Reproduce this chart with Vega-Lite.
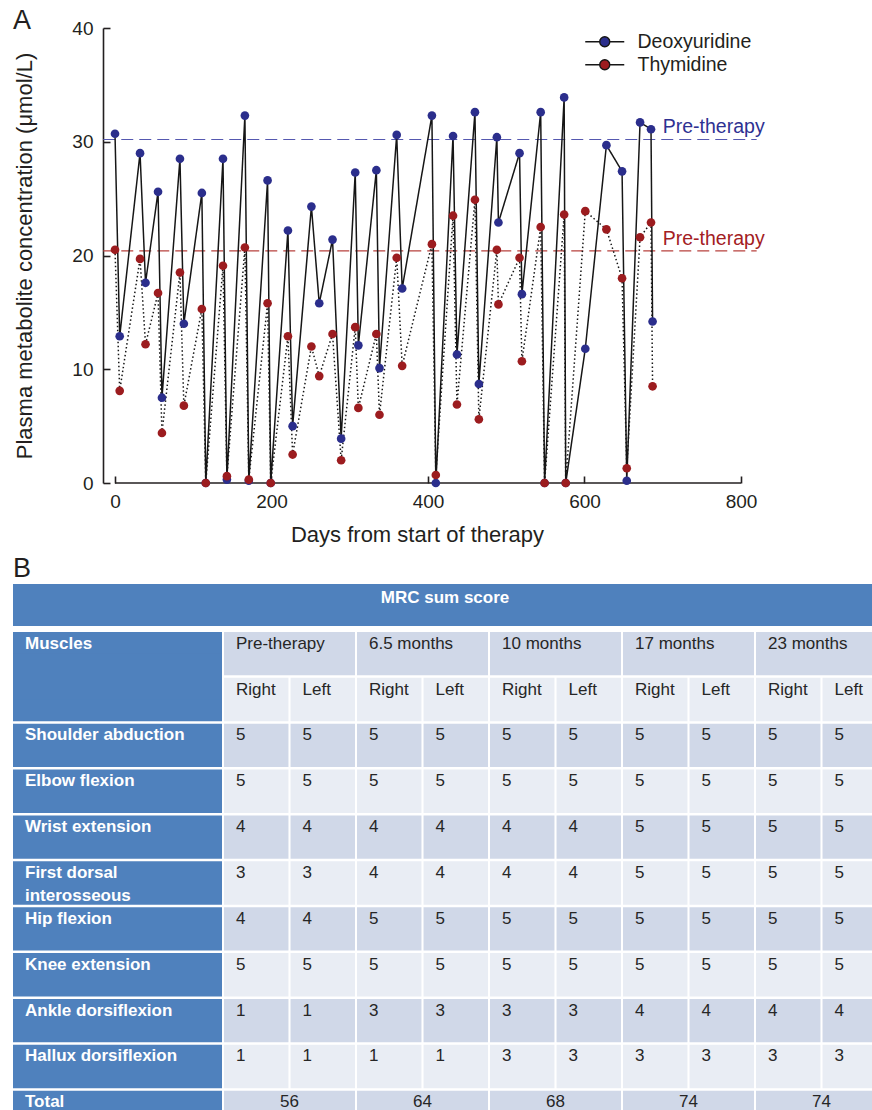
{
  "$schema": "https://vega.github.io/schema/vega-lite/v6.json",
  "padding": {"left": 13, "top": 7, "right": 0, "bottom": 0},
  "config": {
    "font": "Liberation Sans",
    "view": {"stroke": null},
    "title": {"font": "Liberation Sans"}
  },
  "resolve": {
    "scale": {"x": "independent", "y": "independent", "color": "independent", "fill": "independent", "stroke": "independent", "strokeDash": "independent"},
    "legend": {"color": "independent"}
  },
  "datasets": {
    "pts": [
      {"series":"Deoxyuridine","day":0,"value":30.7},{"series":"Deoxyuridine","day":6,"value":12.9},{"series":"Deoxyuridine","day":32,"value":29.0},{"series":"Deoxyuridine","day":39,"value":17.6},{"series":"Deoxyuridine","day":55,"value":25.6},{"series":"Deoxyuridine","day":60,"value":7.5},{"series":"Deoxyuridine","day":83,"value":28.5},{"series":"Deoxyuridine","day":88,"value":14.0},{"series":"Deoxyuridine","day":111,"value":25.5},{"series":"Deoxyuridine","day":116,"value":0},{"series":"Deoxyuridine","day":138,"value":28.5},{"series":"Deoxyuridine","day":143,"value":0.3},{"series":"Deoxyuridine","day":166,"value":32.3},{"series":"Deoxyuridine","day":171,"value":0.2},{"series":"Deoxyuridine","day":195,"value":26.6},{"series":"Deoxyuridine","day":199,"value":0},{"series":"Deoxyuridine","day":221,"value":22.2},{"series":"Deoxyuridine","day":227,"value":5.0},{"series":"Deoxyuridine","day":251,"value":24.3},{"series":"Deoxyuridine","day":261,"value":15.8},{"series":"Deoxyuridine","day":278,"value":21.4},{"series":"Deoxyuridine","day":289,"value":3.9},{"series":"Deoxyuridine","day":307,"value":27.3},{"series":"Deoxyuridine","day":311,"value":12.1},{"series":"Deoxyuridine","day":334,"value":27.5},{"series":"Deoxyuridine","day":338,"value":10.1},{"series":"Deoxyuridine","day":360,"value":30.6},{"series":"Deoxyuridine","day":367,"value":17.1},{"series":"Deoxyuridine","day":405,"value":32.3},{"series":"Deoxyuridine","day":410,"value":0},{"series":"Deoxyuridine","day":432,"value":30.5},{"series":"Deoxyuridine","day":437,"value":11.3},{"series":"Deoxyuridine","day":460,"value":32.6},{"series":"Deoxyuridine","day":465,"value":8.7},{"series":"Deoxyuridine","day":488,"value":30.4},{"series":"Deoxyuridine","day":490,"value":22.9},{"series":"Deoxyuridine","day":517,"value":29.0},{"series":"Deoxyuridine","day":520,"value":16.6},{"series":"Deoxyuridine","day":544,"value":32.6},{"series":"Deoxyuridine","day":549,"value":0},{"series":"Deoxyuridine","day":574,"value":33.9},{"series":"Deoxyuridine","day":576,"value":0},{"series":"Deoxyuridine","day":601,"value":11.8},{"series":"Deoxyuridine","day":628,"value":29.7},{"series":"Deoxyuridine","day":648,"value":27.4},{"series":"Deoxyuridine","day":654,"value":0.2},{"series":"Deoxyuridine","day":671,"value":31.7},{"series":"Deoxyuridine","day":685,"value":31.1},{"series":"Deoxyuridine","day":687,"value":14.2},
      {"series":"Thymidine","day":0,"value":20.5},{"series":"Thymidine","day":6,"value":8.1},{"series":"Thymidine","day":32,"value":19.7},{"series":"Thymidine","day":39,"value":12.2},{"series":"Thymidine","day":55,"value":16.7},{"series":"Thymidine","day":60,"value":4.4},{"series":"Thymidine","day":83,"value":18.5},{"series":"Thymidine","day":88,"value":6.8},{"series":"Thymidine","day":111,"value":15.3},{"series":"Thymidine","day":116,"value":0},{"series":"Thymidine","day":138,"value":19.1},{"series":"Thymidine","day":143,"value":0.6},{"series":"Thymidine","day":166,"value":20.7},{"series":"Thymidine","day":171,"value":0.3},{"series":"Thymidine","day":195,"value":15.8},{"series":"Thymidine","day":199,"value":0},{"series":"Thymidine","day":221,"value":12.9},{"series":"Thymidine","day":227,"value":2.5},{"series":"Thymidine","day":251,"value":12.0},{"series":"Thymidine","day":261,"value":9.4},{"series":"Thymidine","day":278,"value":13.1},{"series":"Thymidine","day":289,"value":2.0},{"series":"Thymidine","day":307,"value":13.7},{"series":"Thymidine","day":311,"value":6.6},{"series":"Thymidine","day":334,"value":13.1},{"series":"Thymidine","day":338,"value":6.0},{"series":"Thymidine","day":360,"value":19.8},{"series":"Thymidine","day":367,"value":10.3},{"series":"Thymidine","day":405,"value":21.0},{"series":"Thymidine","day":410,"value":0.7},{"series":"Thymidine","day":432,"value":23.5},{"series":"Thymidine","day":437,"value":6.9},{"series":"Thymidine","day":460,"value":24.9},{"series":"Thymidine","day":465,"value":5.6},{"series":"Thymidine","day":488,"value":20.5},{"series":"Thymidine","day":490,"value":15.7},{"series":"Thymidine","day":517,"value":19.8},{"series":"Thymidine","day":520,"value":10.7},{"series":"Thymidine","day":544,"value":22.5},{"series":"Thymidine","day":549,"value":0},{"series":"Thymidine","day":574,"value":23.6},{"series":"Thymidine","day":576,"value":0},{"series":"Thymidine","day":601,"value":23.9},{"series":"Thymidine","day":628,"value":22.3},{"series":"Thymidine","day":648,"value":18.0},{"series":"Thymidine","day":654,"value":1.3},{"series":"Thymidine","day":671,"value":21.6},{"series":"Thymidine","day":685,"value":22.9},{"series":"Thymidine","day":687,"value":8.5}
    ],
    "pre": [
      {"series":"Deoxyuridine","pre":30.2,"label":"Pre-therapy"},
      {"series":"Thymidine","pre":20.4,"label":"Pre-therapy"}
    ],
    "mrows": [
      {"r":"head1","label":"Muscles"},
      {"r":"head2","label":""},
      {"r":"Shoulder abduction","label":"Shoulder abduction"},
      {"r":"Elbow flexion","label":"Elbow flexion"},
      {"r":"Wrist extension","label":"Wrist extension"},
      {"r":"First dorsal interosseous","label":["First dorsal","interosseous"]},
      {"r":"Hip flexion","label":"Hip flexion"},
      {"r":"Knee extension","label":"Knee extension"},
      {"r":"Ankle dorsiflexion","label":"Ankle dorsiflexion"},
      {"r":"Hallux dorsiflexion","label":"Hallux dorsiflexion"},
      {"r":"Total","label":"Total"}
    ],
    "merged": [
      {"r":"head1","t":"Pre-therapy","v":"Pre-therapy"},
      {"r":"head1","t":"6.5 months","v":"6.5 months"},
      {"r":"head1","t":"10 months","v":"10 months"},
      {"r":"head1","t":"17 months","v":"17 months"},
      {"r":"head1","t":"23 months","v":"23 months"},
      {"r":"Total","t":"Pre-therapy","v":"56"},
      {"r":"Total","t":"6.5 months","v":"64"},
      {"r":"Total","t":"10 months","v":"68"},
      {"r":"Total","t":"17 months","v":"74"},
      {"r":"Total","t":"23 months","v":"74"}
    ],
    "cells": [
      {"r":"head2","t":"Pre-therapy","s":"Right","v":"Right"},{"r":"head2","t":"Pre-therapy","s":"Left","v":"Left"},{"r":"head2","t":"6.5 months","s":"Right","v":"Right"},{"r":"head2","t":"6.5 months","s":"Left","v":"Left"},{"r":"head2","t":"10 months","s":"Right","v":"Right"},{"r":"head2","t":"10 months","s":"Left","v":"Left"},{"r":"head2","t":"17 months","s":"Right","v":"Right"},{"r":"head2","t":"17 months","s":"Left","v":"Left"},{"r":"head2","t":"23 months","s":"Right","v":"Right"},{"r":"head2","t":"23 months","s":"Left","v":"Left"},
      {"r":"Shoulder abduction","t":"Pre-therapy","s":"Right","v":5},{"r":"Shoulder abduction","t":"Pre-therapy","s":"Left","v":5},{"r":"Shoulder abduction","t":"6.5 months","s":"Right","v":5},{"r":"Shoulder abduction","t":"6.5 months","s":"Left","v":5},{"r":"Shoulder abduction","t":"10 months","s":"Right","v":5},{"r":"Shoulder abduction","t":"10 months","s":"Left","v":5},{"r":"Shoulder abduction","t":"17 months","s":"Right","v":5},{"r":"Shoulder abduction","t":"17 months","s":"Left","v":5},{"r":"Shoulder abduction","t":"23 months","s":"Right","v":5},{"r":"Shoulder abduction","t":"23 months","s":"Left","v":5},
      {"r":"Elbow flexion","t":"Pre-therapy","s":"Right","v":5},{"r":"Elbow flexion","t":"Pre-therapy","s":"Left","v":5},{"r":"Elbow flexion","t":"6.5 months","s":"Right","v":5},{"r":"Elbow flexion","t":"6.5 months","s":"Left","v":5},{"r":"Elbow flexion","t":"10 months","s":"Right","v":5},{"r":"Elbow flexion","t":"10 months","s":"Left","v":5},{"r":"Elbow flexion","t":"17 months","s":"Right","v":5},{"r":"Elbow flexion","t":"17 months","s":"Left","v":5},{"r":"Elbow flexion","t":"23 months","s":"Right","v":5},{"r":"Elbow flexion","t":"23 months","s":"Left","v":5},
      {"r":"Wrist extension","t":"Pre-therapy","s":"Right","v":4},{"r":"Wrist extension","t":"Pre-therapy","s":"Left","v":4},{"r":"Wrist extension","t":"6.5 months","s":"Right","v":4},{"r":"Wrist extension","t":"6.5 months","s":"Left","v":4},{"r":"Wrist extension","t":"10 months","s":"Right","v":4},{"r":"Wrist extension","t":"10 months","s":"Left","v":4},{"r":"Wrist extension","t":"17 months","s":"Right","v":5},{"r":"Wrist extension","t":"17 months","s":"Left","v":5},{"r":"Wrist extension","t":"23 months","s":"Right","v":5},{"r":"Wrist extension","t":"23 months","s":"Left","v":5},
      {"r":"First dorsal interosseous","t":"Pre-therapy","s":"Right","v":3},{"r":"First dorsal interosseous","t":"Pre-therapy","s":"Left","v":3},{"r":"First dorsal interosseous","t":"6.5 months","s":"Right","v":4},{"r":"First dorsal interosseous","t":"6.5 months","s":"Left","v":4},{"r":"First dorsal interosseous","t":"10 months","s":"Right","v":4},{"r":"First dorsal interosseous","t":"10 months","s":"Left","v":4},{"r":"First dorsal interosseous","t":"17 months","s":"Right","v":5},{"r":"First dorsal interosseous","t":"17 months","s":"Left","v":5},{"r":"First dorsal interosseous","t":"23 months","s":"Right","v":5},{"r":"First dorsal interosseous","t":"23 months","s":"Left","v":5},
      {"r":"Hip flexion","t":"Pre-therapy","s":"Right","v":4},{"r":"Hip flexion","t":"Pre-therapy","s":"Left","v":4},{"r":"Hip flexion","t":"6.5 months","s":"Right","v":5},{"r":"Hip flexion","t":"6.5 months","s":"Left","v":5},{"r":"Hip flexion","t":"10 months","s":"Right","v":5},{"r":"Hip flexion","t":"10 months","s":"Left","v":5},{"r":"Hip flexion","t":"17 months","s":"Right","v":5},{"r":"Hip flexion","t":"17 months","s":"Left","v":5},{"r":"Hip flexion","t":"23 months","s":"Right","v":5},{"r":"Hip flexion","t":"23 months","s":"Left","v":5},
      {"r":"Knee extension","t":"Pre-therapy","s":"Right","v":5},{"r":"Knee extension","t":"Pre-therapy","s":"Left","v":5},{"r":"Knee extension","t":"6.5 months","s":"Right","v":5},{"r":"Knee extension","t":"6.5 months","s":"Left","v":5},{"r":"Knee extension","t":"10 months","s":"Right","v":5},{"r":"Knee extension","t":"10 months","s":"Left","v":5},{"r":"Knee extension","t":"17 months","s":"Right","v":5},{"r":"Knee extension","t":"17 months","s":"Left","v":5},{"r":"Knee extension","t":"23 months","s":"Right","v":5},{"r":"Knee extension","t":"23 months","s":"Left","v":5},
      {"r":"Ankle dorsiflexion","t":"Pre-therapy","s":"Right","v":1},{"r":"Ankle dorsiflexion","t":"Pre-therapy","s":"Left","v":1},{"r":"Ankle dorsiflexion","t":"6.5 months","s":"Right","v":3},{"r":"Ankle dorsiflexion","t":"6.5 months","s":"Left","v":3},{"r":"Ankle dorsiflexion","t":"10 months","s":"Right","v":3},{"r":"Ankle dorsiflexion","t":"10 months","s":"Left","v":3},{"r":"Ankle dorsiflexion","t":"17 months","s":"Right","v":4},{"r":"Ankle dorsiflexion","t":"17 months","s":"Left","v":4},{"r":"Ankle dorsiflexion","t":"23 months","s":"Right","v":4},{"r":"Ankle dorsiflexion","t":"23 months","s":"Left","v":4},
      {"r":"Hallux dorsiflexion","t":"Pre-therapy","s":"Right","v":1},{"r":"Hallux dorsiflexion","t":"Pre-therapy","s":"Left","v":1},{"r":"Hallux dorsiflexion","t":"6.5 months","s":"Right","v":1},{"r":"Hallux dorsiflexion","t":"6.5 months","s":"Left","v":1},{"r":"Hallux dorsiflexion","t":"10 months","s":"Right","v":3},{"r":"Hallux dorsiflexion","t":"10 months","s":"Left","v":3},{"r":"Hallux dorsiflexion","t":"17 months","s":"Right","v":3},{"r":"Hallux dorsiflexion","t":"17 months","s":"Left","v":3},{"r":"Hallux dorsiflexion","t":"23 months","s":"Right","v":3},{"r":"Hallux dorsiflexion","t":"23 months","s":"Left","v":3}
    ]
  },
  "spacing": 10,
  "columns": 1,
  "align": "none",
  "concat": [
    {
      "width": 728,
      "height": 455,
      "title": {"text": "A", "anchor": "start", "frame": "bounds", "fontSize": 27, "fontWeight": "normal", "baseline": "alphabetic", "offset": -9, "dy": 28, "color": "#231f20"},
      "layer": [
        {
          "data": {"values": [{"axis": "x"}]},
          "mark": {"type": "rule", "color": "#231f20", "strokeWidth": 1.6},
          "encoding": {
            "x": {"datum": 0, "type": "quantitative", "scale": {"domain": [-130.35, 800], "nice": false, "zero": false}},
            "x2": {"datum": 800},
            "y": {"datum": 0, "type": "quantitative", "scale": {"domain": [0, 40], "nice": false}}
          }
        },
        {
          "data": {"name": "pre"},
          "mark": {"type": "rule", "strokeDash": [12, 6], "strokeWidth": 1.2, "clip": false},
          "encoding": {
            "x": {"datum": -15, "type": "quantitative"},
            "x2": {"datum": 820},
            "y": {"field": "pre", "type": "quantitative", "title": "Plasma metabolite concentration (μmol/L)"},
            "stroke": {"condition": {"test": "datum.series === 'Thymidine'", "value": "#b8423e"}, "value": "#5558b0"}
          }
        },
        {
          "data": {"name": "pre"},
          "mark": {"type": "text", "align": "left", "baseline": "alphabetic", "dy": -6, "fontSize": 19.5, "clip": false},
          "encoding": {
            "x": {"datum": 700, "type": "quantitative"},
            "y": {"field": "pre", "type": "quantitative", "title": "Plasma metabolite concentration (μmol/L)"},
            "text": {"field": "label"},
            "fill": {"condition": {"test": "datum.series === 'Thymidine'", "value": "#a3201f"}, "value": "#2e3192"}
          }
        },
        {
          "data": {"name": "pts"},
          "mark": {"type": "line", "color": "#161616", "strokeWidth": 1.5},
          "encoding": {
            "x": {"field": "day", "type": "quantitative", "title": "Days from start of therapy"},
            "y": {"field": "value", "type": "quantitative", "title": "Plasma metabolite concentration (μmol/L)"},
            "strokeDash": {"field": "series", "type": "nominal", "scale": {"domain": ["Thymidine", "Deoxyuridine"], "range": [[1.5, 2.5], [1, 0]]}, "legend": null}
          }
        },
        {
          "data": {"name": "pts"},
          "mark": {"type": "point", "filled": true, "size": 75, "opacity": 1, "strokeWidth": 0},
          "encoding": {
            "x": {
              "field": "day", "type": "quantitative", "title": "Days from start of therapy",
              "axis": {"values": [0, 200, 400, 600, 800], "domain": false, "grid": false, "tickSize": -7, "labelPadding": 16, "labelFlush": false, "labelFontSize": 19, "labelColor": "#231f20", "titleFontSize": 22, "titleFontWeight": "normal", "titleColor": "#231f20", "titlePadding": 13, "titleX": 404, "tickColor": "#231f20", "tickWidth": 1.6, "format": "d"}
            },
            "y": {
              "field": "value", "type": "quantitative", "title": "Plasma metabolite concentration (μmol/L)",
              "axis": {"values": [0, 10, 20, 30, 40], "offset": -90, "grid": false, "tickSize": -7, "labelPadding": 17, "labelFontSize": 19, "labelColor": "#231f20", "titleFontSize": 22, "titleFontWeight": "normal", "titleColor": "#231f20", "titlePadding": 35, "domainColor": "#231f20", "domainWidth": 1.6, "tickColor": "#231f20", "tickWidth": 1.6, "format": "d"}
            },
            "color": {
              "field": "series", "type": "nominal",
              "scale": {"domain": ["Deoxyuridine", "Thymidine"], "range": ["#2b2e8c", "#9c1c1f"]},
              "legend": {
                "orient": "none", "legendX": 582, "legendY": 4, "title": null, "padding": 0,
                "symbolType": "M-3.9,0H-1M1,0H3.9M-1,0A1,1,0,1,1,1,0A1,1,0,1,1,-1,0Z",
                "symbolSize": 100, "symbolStrokeColor": "#161616", "symbolStrokeWidth": 1.4,
                "labelFontSize": 19.5, "labelColor": "#231f20", "labelOffset": 23, "rowPadding": 2,
                "encode": {"symbols": {
                  "shape": {"value": "M-3.9,0H-1M1,0H3.9M-1,0A1,1,0,1,1,1,0A1,1,0,1,1,-1,0Z"},
                  "stroke": {"value": "#161616"},
                  "strokeWidth": {"value": 1.4},
                  "size": {"value": 100},
                  "strokeDash": {"value": {"expr": "datum.value === 'Thymidine' ? [1.5, 2.5] : [1, 0]"}}
                }}
              }
            }
          }
        }
      ]
    },
    {
      "title": {"text": "B", "anchor": "start", "frame": "bounds", "fontSize": 27, "fontWeight": "normal", "baseline": "alphabetic", "offset": 7, "dy": 27, "color": "#231f20"},
      "spacing": 6,
      "bounds": "flush",
      "vconcat": [
        {
          "width": 874,
          "height": 42,
          "view": {"fill": "#4f81bd", "stroke": null},
          "data": {"values": [{"label": "MRC sum score"}]},
          "mark": {"type": "text", "color": "white", "fontWeight": "bold", "fontSize": 17, "dx": -5, "dy": -7},
          "encoding": {"text": {"field": "label"}}
        },
        {
          "spacing": 2,
          "bounds": "flush",
          "hconcat": [
            {
              "width": 209,
              "height": 502,
              "layer": [
                {
                  "data": {"name": "mrows"},
                  "mark": {"type": "rect", "color": "#4f81bd"},
                  "encoding": {
                    "y": {"field": "r", "type": "nominal", "axis": null, "sort": null, "scale": {"domain": ["head1","head2","Shoulder abduction","Elbow flexion","Wrist extension","First dorsal interosseous","Hip flexion","Knee extension","Ankle dorsiflexion","Hallux dorsiflexion","Total"], "paddingInner": 0.055, "paddingOuter": 0}}
                  }
                },
                {
                  "data": {"values": [{"r": "head1", "r2": "head2"}]},
                  "mark": {"type": "rect", "color": "#4f81bd"},
                  "encoding": {
                    "y": {"field": "r", "type": "nominal", "axis": null},
                    "y2": {"field": "r2"}
                  }
                },
                {
                  "data": {"name": "mrows"},
                  "mark": {"type": "text", "align": "left", "baseline": "top", "dx": -92.5, "dy": -18, "color": "white", "fontWeight": "bold", "fontSize": 17, "lineHeight": 23},
                  "encoding": {
                    "y": {"field": "r", "type": "nominal", "axis": null},
                    "text": {"field": "label"}
                  }
                }
              ]
            },
            {
              "width": 663,
              "height": 502,
              "layer": [
                {
                  "data": {"name": "merged"},
                  "mark": {"type": "rect"},
                  "encoding": {
                    "y": {"field": "r", "type": "nominal", "axis": null, "sort": null, "scale": {"domain": ["head1","head2","Shoulder abduction","Elbow flexion","Wrist extension","First dorsal interosseous","Hip flexion","Knee extension","Ankle dorsiflexion","Hallux dorsiflexion","Total"], "paddingInner": 0.055, "paddingOuter": 0}},
                    "x": {"field": "t", "type": "nominal", "axis": null, "sort": null, "scale": {"domain": ["Pre-therapy","6.5 months","10 months","17 months","23 months"], "paddingInner": 0.015, "paddingOuter": 0}},
                    "color": {"field": "r", "type": "nominal", "legend": null, "scale": {"domain": ["head1","head2","Shoulder abduction","Elbow flexion","Wrist extension","First dorsal interosseous","Hip flexion","Knee extension","Ankle dorsiflexion","Hallux dorsiflexion","Total"], "range": ["#d0d8e8","#e9edf4","#d0d8e8","#e9edf4","#d0d8e8","#e9edf4","#d0d8e8","#e9edf4","#d0d8e8","#e9edf4","#d0d8e8"]}}
                  }
                },
                {
                  "data": {"name": "cells"},
                  "mark": {"type": "rect"},
                  "encoding": {
                    "y": {"field": "r", "type": "nominal", "axis": null},
                    "x": {"field": "t", "type": "nominal", "axis": null},
                    "xOffset": {"field": "s", "type": "nominal", "scale": {"domain": ["Right", "Left"], "paddingInner": 0.031, "paddingOuter": 0}},
                    "color": {"field": "r", "type": "nominal", "legend": null}
                  }
                },
                {
                  "data": {"name": "cells"},
                  "mark": {"type": "text", "align": "left", "baseline": "top", "dx": -20.25, "dy": -18, "color": "#262626", "fontSize": 17},
                  "encoding": {
                    "y": {"field": "r", "type": "nominal", "axis": null},
                    "x": {"field": "t", "type": "nominal", "axis": null},
                    "xOffset": {"field": "s", "type": "nominal"},
                    "text": {"field": "v"}
                  }
                },
                {
                  "data": {"name": "merged"},
                  "transform": [{"filter": "datum.r === 'head1'"}],
                  "mark": {"type": "text", "align": "left", "baseline": "top", "dx": -53.5, "dy": -18, "color": "#262626", "fontSize": 17},
                  "encoding": {
                    "y": {"field": "r", "type": "nominal", "axis": null},
                    "x": {"field": "t", "type": "nominal", "axis": null},
                    "text": {"field": "v"}
                  }
                },
                {
                  "data": {"name": "merged"},
                  "transform": [{"filter": "datum.r === 'Total'"}],
                  "mark": {"type": "text", "align": "center", "baseline": "top", "dy": -18, "color": "#262626", "fontSize": 17},
                  "encoding": {
                    "y": {"field": "r", "type": "nominal", "axis": null},
                    "x": {"field": "t", "type": "nominal", "axis": null},
                    "text": {"field": "v"}
                  }
                }
              ]
            }
          ]
        }
      ]
    }
  ]
}
